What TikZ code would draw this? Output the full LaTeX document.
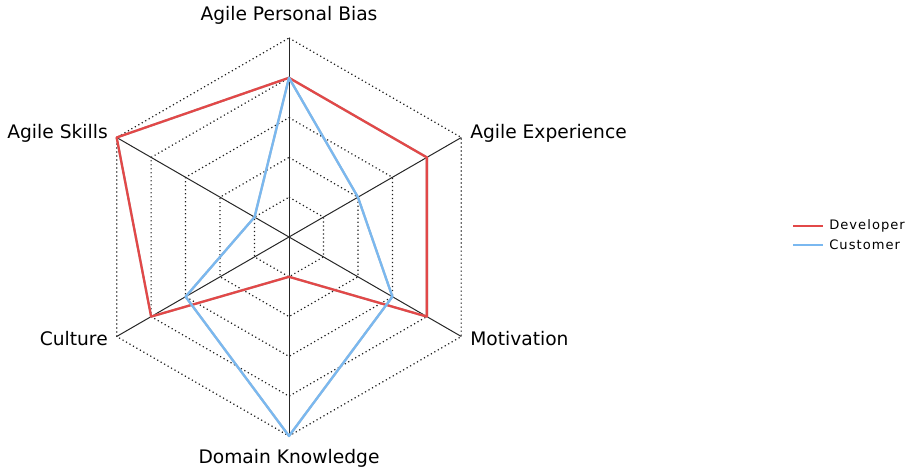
\documentclass[tikz,border=0pt]{standalone}
\usepackage{fontspec}
\setmainfont{DejaVu Sans}
\newfontfamily\legendfont[LetterSpace=8]{DejaVu Sans}
\usetikzlibrary{positioning}
\usetikzlibrary{calc}
\definecolor{devred}{RGB}{226,72,72}
\definecolor{custblue}{RGB}{122,184,240}
\definecolor{gridgray}{RGB}{30,30,30}

\begin{document}
\begin{tikzpicture}[x=0.75pt,y=0.75pt,
	axislbl/.style={font=\fontsize{14}{16}\selectfont, inner sep=0pt},
	legendlbl/.style={font=\legendfont\fontsize{9.8}{11}\selectfont, inner sep=0pt, anchor=west},
	gridline/.style={gridgray, dash pattern=on 0.9pt off 2.1pt, line width=0.9pt},
	axisline/.style={black!85, line width=0.75pt},
	series/.style={line width=1.7pt, line join=round},
	seriesshadow/.style={black!28, line width=1.7pt, line join=round, shift={(1,-1.4)}}]
	\useasboundingbox (-289,-234) rectangle (627,237);
	\def\lvl{39.8}

	%axis ends
	\coordinate (c) at (0,0);
	\foreach \n/\a in {bias/90,exp/30,mot/-30,dom/-90,cul/210,ski/150}
		\coordinate (\n) at (\a:5*\lvl);

	%draw grid
	\foreach \r in {1,...,5}
		\draw[gridline] (90:\r*\lvl) -- (30:\r*\lvl) -- (-30:\r*\lvl) -- (-90:\r*\lvl) -- (210:\r*\lvl) -- (150:\r*\lvl) -- cycle;

	%draw axes
	\draw[axisline] (bias) -- (dom);
	\draw[axisline] (ski) -- (mot);
	\draw[axisline] (cul) -- (exp);

	%data points
	\foreach \n/\a/\d/\u in {1/90/4/4, 2/30/4/2, 3/-30/4/3, 4/-90/1/5, 5/210/4/3, 6/150/5/1}
	{
		\coordinate (dev\n) at (\a:\d*\lvl);
		\coordinate (cus\n) at (\a:\u*\lvl);
	}

	%developer
	\draw[seriesshadow] (dev1) -- (dev2) -- (dev3) -- (dev4) -- (dev5) -- (dev6) -- cycle;
	\draw[series, devred] (dev1) -- (dev2) -- (dev3) -- (dev4) -- (dev5) -- (dev6) -- cycle;
	%customer
	\draw[seriesshadow] (cus1) -- (cus2) -- (cus3) -- (cus4) -- (cus5) -- (cus6) -- cycle;
	\draw[series, custblue] (cus1) -- (cus2) -- (cus3) -- (cus4) -- (cus5) -- (cus6) -- cycle;

	%axis names
	\node[axislbl] (biaslbl) at (0,222) {Agile Personal Bias};
	\node[axislbl, anchor=west] (explbl) at (181,104) {Agile Experience};
	\node[axislbl, anchor=west] (motlbl) at (181,-102) {Motivation};
	\node[axislbl] (domlbl) at (0,-221) {Domain Knowledge};
	\node[axislbl, anchor=east] (cullbl) at (-181,-102) {Culture};
	\node[axislbl, anchor=east] (skilbl) at (-181,104) {Agile Skills};

	%legend
	\coordinate (devkey) at (504,11);
	\coordinate (cuskey) at (504,-8);
	\node[legendlbl] (devlbl) at (540,11) {Developer};
	\node[legendlbl] (cuslbl) at (540,-8) {Customer};
	\draw[series, devred] (devkey) -- ++(30,0);
	\draw[series, custblue] (cuskey) -- ++(30,0);
\end{tikzpicture}
\end{document}
